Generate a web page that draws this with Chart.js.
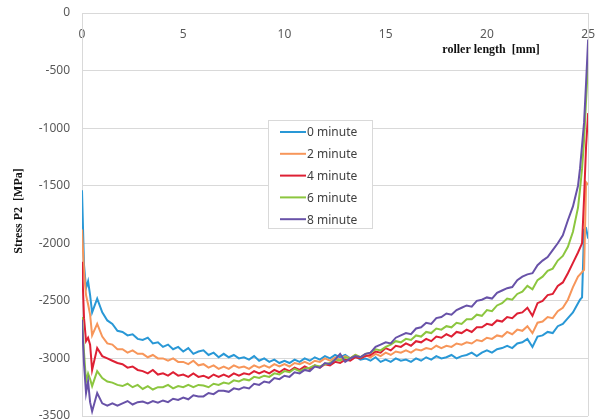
<!DOCTYPE html>
<html>
<head>
<meta charset="utf-8">
<script src="https://cdn.jsdelivr.net/npm/chart.js@4/dist/chart.umd.min.js"></script>
<style>
    body { margin: 0; background: #fff; }
</style>
</head>
<body>
<canvas id="stressChart" width="609" height="420"></canvas>
<script>
// roller length [mm]
var lengths = [0, 0.1, 0.2, 0.3, 0.4, 0.5, 0.75,
    1, 1.25, 1.5, 1.75, 2, 2.25, 2.5, 2.75, 3, 3.25, 3.5, 3.75, 4, 4.25, 4.5, 4.75,
    5, 5.25, 5.5, 5.75, 6, 6.25, 6.5, 6.75, 7, 7.25, 7.5, 7.75, 8, 8.25, 8.5, 8.75,
    9, 9.25, 9.5, 9.75, 10, 10.25, 10.5, 10.75, 11, 11.25, 11.5, 11.75, 12, 12.25, 12.5, 12.75,
    13, 13.25, 13.5, 13.75, 14, 14.25, 14.5, 14.75, 15, 15.25, 15.5, 15.75, 16, 16.25, 16.5, 16.75,
    17, 17.25, 17.5, 17.75, 18, 18.25, 18.5, 18.75, 19, 19.25, 19.5, 19.75, 20, 20.25, 20.5, 20.75,
    21, 21.25, 21.5, 21.75, 22, 22.25, 22.5, 22.75, 23, 23.25, 23.5, 23.75,
    24, 24.25, 24.5, 24.6, 24.7, 24.8, 24.9, 25];

var seriesNames = ['0 minute', '2 minute', '4 minute', '6 minute', '8 minute'];

// stress P2 [MPa]
var stress0 = [-1540, -2190, -2390, -2330, -2450, -2600, -2480,
    -2600, -2670, -2700, -2760, -2770, -2800, -2790, -2830, -2840, -2820, -2870, -2860, -2900, -2880, -2920, -2900,
    -2940, -2910, -2960, -2940, -2930, -2970, -2950, -2990, -2960, -2990, -2970, -3000, -2990, -3010, -2980, -3020,
    -3000, -3030, -3010, -3040, -3020, -3040, -3010, -3030, -3000, -3020, -2990, -3010, -2980, -3000, -2970, -2990,
    -2970, -3000, -2980, -3010, -3000, -3020, -2990, -3030, -3010, -3030, -3000, -3020, -3010, -3030, -3000, -3020,
    -2990, -3010, -2980, -3000, -2990, -2970, -3000, -2980, -2970, -2950, -2980, -2950, -2930, -2950, -2920, -2910,
    -2890, -2910, -2870, -2860, -2830, -2900, -2810, -2800, -2770, -2780, -2720, -2700,
    -2650, -2600, -2520, -2490, -2470, -1880, -1870, -1960];

var stress2 = [-1880, -2250, -2450, -2530, -2620, -2800, -2700,
    -2810, -2870, -2880, -2920, -2920, -2950, -2930, -2960, -2960, -2990, -2970, -3000, -3000, -3020, -3000, -3030,
    -3030, -3050, -3020, -3060, -3050, -3080, -3060, -3090, -3070, -3090, -3060, -3080, -3070, -3090, -3060, -3080,
    -3060, -3080, -3050, -3070, -3050, -3070, -3040, -3050, -3030, -3050, -3020, -3030, -3000, -3020, -2990, -3010,
    -2980, -3000, -2970, -2990, -2970, -2990, -2960, -2980, -2950, -2970, -2940, -2950, -2930, -2950, -2920, -2930,
    -2910, -2920, -2890, -2910, -2890, -2900, -2870, -2880, -2860, -2870, -2840, -2850, -2820, -2830, -2800, -2810,
    -2770, -2790, -2750, -2760, -2720, -2780, -2690, -2680, -2640, -2650, -2590, -2560,
    -2490, -2380, -2290, -2270, -2250, -2230, -1470, -1490];

var stress4 = [-2160, -2650, -2850, -2820, -2880, -3100, -2910,
    -2980, -3000, -3020, -3040, -3050, -3080, -3070, -3100, -3110, -3130, -3100, -3140, -3130, -3150, -3120, -3150,
    -3140, -3160, -3130, -3160, -3150, -3170, -3140, -3160, -3140, -3160, -3130, -3150, -3130, -3140, -3110, -3130,
    -3110, -3130, -3100, -3120, -3090, -3110, -3080, -3100, -3070, -3090, -3060, -3080, -3050, -3060, -3030, -3040,
    -3010, -3020, -2990, -3000, -2980, -2970, -2940, -2950, -2910, -2930, -2890, -2900, -2870, -2890, -2850, -2860,
    -2830, -2850, -2810, -2820, -2790, -2810, -2770, -2780, -2750, -2770, -2730, -2730, -2700, -2710, -2670, -2680,
    -2640, -2650, -2610, -2600, -2560, -2630, -2520, -2500, -2450, -2440, -2370, -2340,
    -2260, -2170, -2080, -2040, -2000, -1600, -1150, -870];

var stress6 = [-2640, -2950, -3200, -3130, -3180, -3240, -3110,
    -3170, -3200, -3210, -3230, -3240, -3220, -3250, -3230, -3265, -3240, -3270, -3250, -3250, -3230, -3260, -3240,
    -3250, -3230, -3250, -3230, -3235, -3250, -3220, -3230, -3210, -3220, -3190, -3200, -3180, -3190, -3160, -3170,
    -3150, -3160, -3130, -3140, -3110, -3120, -3090, -3110, -3090, -3080, -3060, -3070, -3050, -3040, -3010, -3020,
    -2990, -3000, -2970, -2990, -2960, -2950, -2920, -2930, -2900, -2880, -2850, -2860, -2830, -2840, -2800, -2810,
    -2770, -2780, -2740, -2750, -2720, -2730, -2690, -2700, -2660, -2660, -2620, -2630, -2580, -2590, -2540, -2520,
    -2480, -2490, -2440, -2420, -2370, -2400, -2320, -2290, -2240, -2220, -2150, -2110,
    -2030, -1900, -1690, -1530, -1350, -1100, -750, -430];

var stress8 = [-2665, -3050, -3300, -3200, -3380, -3460, -3300,
    -3390, -3410, -3390, -3410, -3390, -3370, -3400, -3380, -3375, -3390, -3370, -3385, -3365, -3380, -3350, -3360,
    -3340, -3355, -3320, -3330, -3330, -3300, -3310, -3280, -3280, -3290, -3260, -3270, -3250, -3260, -3220, -3230,
    -3200, -3210, -3170, -3180, -3150, -3160, -3120, -3130, -3100, -3110, -3070, -3080, -3040, -3050, -3010, -2960,
    -3030, -3000, -2980, -2990, -2960, -2950, -2900, -2880, -2860, -2870, -2820, -2800, -2780, -2790, -2740, -2730,
    -2690, -2700, -2650, -2640, -2610, -2620, -2580, -2560, -2540, -2550, -2500, -2490, -2470, -2480, -2430, -2410,
    -2390, -2380, -2320, -2290, -2270, -2260, -2190, -2150, -2120, -2060, -2000, -1930,
    -1800, -1680, -1500, -1350, -1150, -950, -600, -230];

var lineColors = ['rgb(41, 152, 214)', 'rgb(247, 150, 90)', 'rgb(222, 32, 52)', 'rgb(140, 198, 63)', 'rgb(104, 82, 168)'];

function toPoints(values) {
    return values.map(function (v, i) {
        return { x: lengths[i], y: v };
    });
}

var allSeries = [stress0, stress2, stress4, stress6, stress8];
var datasets = allSeries.map(function (values, i) {
    return {
        label: seriesNames[i],
        data: toPoints(values),
        borderColor: lineColors[i],
        backgroundColor: lineColors[i],
        borderWidth: 2,
        pointRadius: 0,
        tension: 0,
        order: allSeries.length - i
    };
});

// axis titles, right border and the boxed legend
var overlay = {
    id: 'overlay',
    afterDraw: function (chart) {
        var ctx = chart.ctx;
        var area = chart.chartArea;
        ctx.save();
        ctx.strokeStyle = '#d9d9d9';
        ctx.lineWidth = 1;
        ctx.beginPath();
        ctx.moveTo(Math.round(area.right) + 0.5, area.top);
        ctx.lineTo(Math.round(area.right) + 0.5, area.bottom);
        ctx.stroke();

        ctx.fillStyle = '#111';
        ctx.font = 'bold 12px "Liberation Serif"';
        ctx.textAlign = 'center';
        ctx.textBaseline = 'middle';
        ctx.fillText('roller length  [mm]', 491, 50);
        ctx.save();
        ctx.translate(19, 211);
        ctx.rotate(-Math.PI / 2);
        ctx.fillText('Stress P2  [MPa]', 0, 0);
        ctx.restore();

        // legend box
        ctx.fillStyle = '#fff';
        ctx.fillRect(268, 120, 104, 108);
        ctx.strokeStyle = '#d9d9d9';
        ctx.strokeRect(268.5, 120.5, 104, 108);
        ctx.font = '12px "Noto Sans"';
        ctx.textAlign = 'left';
        seriesNames.forEach(function (name, i) {
            var y = 132 + i * 21.8;
            ctx.strokeStyle = lineColors[i];
            ctx.lineWidth = 2;
            ctx.beginPath();
            ctx.moveTo(280, y);
            ctx.lineTo(306, y);
            ctx.stroke();
            ctx.fillStyle = '#404040';
            ctx.fillText(name, 307, y + 1);
        });
        ctx.restore();
    }
};

var stressChart = new Chart(document.getElementById('stressChart'), {
    type: 'line',
    data: { datasets: datasets },
    options: {
        responsive: false,
        animation: false,
        layout: { padding: { left: 0, top: 13, right: 10, bottom: 4 } },
        scales: {
            x: {
                type: 'linear',
                position: { y: 0 },
                min: 0,
                max: 25,
                ticks: {
                    stepSize: 5,
                    padding: 14,
                    maxRotation: 0,
                    color: '#595959',
                    font: { family: 'Noto Sans', size: 12 }
                },
                grid: { display: false, drawTicks: false },
                border: { display: false }
            },
            y: {
                min: -3500,
                max: 0,
                afterFit: function (scale) {
                    scale.width = 82;
                    scale.paddingTop = 0;
                    scale.paddingBottom = 0;
                },
                ticks: {
                    stepSize: 500,
                    padding: 12,
                    color: '#595959',
                    font: { family: 'Noto Sans', size: 12 },
                    callback: function (value) {
                        return String(value);
                    }
                },
                grid: { color: '#d9d9d9', drawTicks: false },
                border: { color: '#d9d9d9' }
            }
        },
        plugins: {
            legend: { display: false },
            tooltip: { enabled: false }
        }
    },
    plugins: [overlay]
});
</script>
</body>
</html>
